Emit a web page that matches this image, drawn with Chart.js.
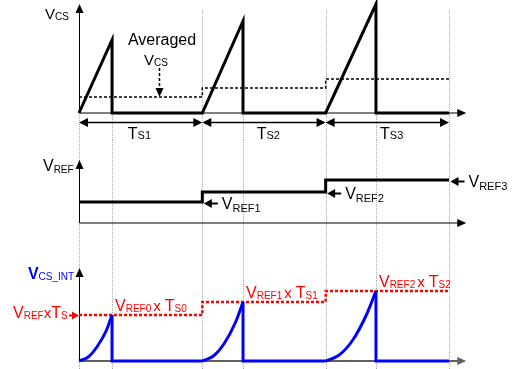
<!DOCTYPE html>
<html>
<head>
<meta charset="utf-8">
<script src="https://cdn.jsdelivr.net/npm/chart.js@4.4.1/dist/chart.umd.min.js"></script>
<style>
  body { margin: 0; background: #fff; }
  canvas { position: absolute; left: 0; }
</style>
</head>
<body>
<canvas id="vcs" width="512" height="140" style="top:0px"></canvas>
<canvas id="vref" width="512" height="100" style="top:140px"></canvas>
<canvas id="vint" width="512" height="129" style="top:240px"></canvas>
<script>
// time is counted in switching periods
const periodStart = [0, 1, 2];
const periodEnd = [1, 2, 3];
const onTime = [0.268, 0.330, 0.408];
const periodLabels = ['S1', 'S2', 'S3'];

// top: sensed current and its average
const vcsPeak = [7.3, 9.2, 10.9];
const vcsAvg = [1.6, 2.5, 3.4];

// middle: reference level
const vref = [2.1, 3.1, 4.3];
const vrefLabels = ['REF1', 'REF2', 'REF3'];

// bottom: integrated current
const vintLevel = [4.6, 5.9, 7.0];
const vintLabels = [['REF0', 'S0'], ['REF1', 'S1'], ['REF2', 'S2']];
const vintCurveT = [
    [0, 0.075, 0.145, 0.22, 0.268],
    [1, 1.09, 1.18, 1.27, 1.33],
    [2, 2.11, 2.22, 2.33, 2.408]
];
const vintCurveV = [
    [0, 0.4, 1.4, 3.0, 4.6],
    [0, 0.5, 1.8, 3.9, 5.9],
    [0, 0.6, 2.1, 4.6, 7.0]
];

const FONT = 'Arial, "Liberation Sans", sans-serif';
const X_MIN = -0.6405, X_MAX = 3.511, AXIS_END = 3.14;

function runs(ctx, x, y, parts, color) {
    ctx.fillStyle = color;
    ctx.textAlign = 'left';
    ctx.textBaseline = 'alphabetic';
    for (const p of parts) {
        ctx.font = (p.b ? 'bold ' : '') + p.s + 'px ' + FONT;
        ctx.fillText(p.t, x, y + (p.dy || 0));
        x += ctx.measureText(p.t).width + (p.gap || 0);
    }
}

function runsWidth(ctx, parts) {
    let w = 0;
    for (const p of parts) {
        ctx.font = (p.b ? 'bold ' : '') + p.s + 'px ' + FONT;
        w += ctx.measureText(p.t).width + (p.gap || 0);
    }
    return w;
}

function head(ctx, x, y, ang, len, half) {
    ctx.save();
    ctx.translate(x, y);
    ctx.rotate(ang);
    ctx.beginPath();
    ctx.moveTo(0, 0);
    ctx.lineTo(-len, -half);
    ctx.lineTo(-len, half);
    ctx.closePath();
    ctx.fill();
    ctx.restore();
}

// dotted gray period markers
function guides(chart, fullTop, shortTop) {
    const ctx = chart.ctx, xs = chart.scales.x, ys = chart.scales.y;
    const bottom = chart.chartArea.bottom;
    ctx.save();
    ctx.strokeStyle = '#a8a8a8';
    ctx.lineWidth = 1;
    ctx.setLineDash([1, 1]);
    const full = periodStart.concat([periodEnd[periodEnd.length - 1]]);
    full.forEach(t => {
        const px = Math.round(xs.getPixelForValue(t)) + 0.5;
        ctx.beginPath();
        ctx.moveTo(px, ys.getPixelForValue(fullTop));
        ctx.lineTo(px, bottom);
        ctx.stroke();
    });
    periodStart.forEach((t, i) => {
        const px = Math.round(xs.getPixelForValue(t + onTime[i])) + 0.5;
        ctx.beginPath();
        ctx.moveTo(px, ys.getPixelForValue(shortTop));
        ctx.lineTo(px, bottom);
        ctx.stroke();
    });
    ctx.restore();
}

function axes(chart, yTop, color, hWidth) {
    const ctx = chart.ctx, xs = chart.scales.x, ys = chart.scales.y;
    const x0 = Math.round(xs.getPixelForValue(0)) + 0.5;
    const y0 = ys.getPixelForValue(0);
    const yt = ys.getPixelForValue(yTop);
    const xr = xs.getPixelForValue(AXIS_END);
    ctx.save();
    ctx.strokeStyle = '#000';
    ctx.fillStyle = '#000';
    ctx.lineWidth = 1;
    ctx.beginPath();
    ctx.moveTo(x0, y0);
    ctx.lineTo(x0, yt + 6);
    ctx.stroke();
    head(ctx, x0, yt, -Math.PI / 2, 9, 4);
    ctx.strokeStyle = color;
    ctx.fillStyle = color;
    ctx.lineWidth = hWidth;
    ctx.beginPath();
    ctx.moveTo(x0, y0);
    ctx.lineTo(xr - 6, y0);
    ctx.stroke();
    head(ctx, xr, y0, 0, 9, 4);
    ctx.restore();
}

function baseOptions(yMin, yMax) {
    return {
        responsive: false,
        animation: false,
        layout: { padding: 0 },
        plugins: { legend: { display: false }, tooltip: { enabled: false } },
        elements: { point: { radius: 0 }, line: { borderJoinStyle: 'miter', borderCapStyle: 'butt', tension: 0 } },
        scales: {
            x: { type: 'linear', display: false, min: X_MIN, max: X_MAX },
            y: { type: 'linear', display: false, min: yMin, max: yMax }
        }
    };
}

// ---------- top panel ----------
const vcsWave = [];
const vcsAvgLine = [];
periodStart.forEach((t, i) => {
    vcsWave.push({ x: t, y: 0 }, { x: t + onTime[i], y: vcsPeak[i] }, { x: t + onTime[i], y: 0 });
    vcsAvgLine.push({ x: t, y: vcsAvg[i] }, { x: periodEnd[i], y: vcsAvg[i] });
});
vcsWave.push({ x: periodEnd[periodEnd.length - 1], y: 0 });

new Chart(document.getElementById('vcs'), {
    type: 'line',
    data: {
        datasets: [
            { data: vcsWave, borderColor: '#000', borderWidth: 3 },
            { data: vcsAvgLine, borderColor: '#000', borderWidth: 1.5, borderDash: [3, 2] }
        ]
    },
    options: baseOptions(-2.7, 11.3),
    plugins: [{
        id: 'vcsDeco',
        beforeDatasetsDraw(chart) {
            guides(chart, 10.3, 0);
            axes(chart, 10.9, '#000', 1);
        },
        afterDatasetsDraw(chart) {
            const ctx = chart.ctx, xs = chart.scales.x, ys = chart.scales.y;
            const X = t => xs.getPixelForValue(t), Y = v => ys.getPixelForValue(v);
            ctx.save();
            runs(ctx, X(-0.276), Y(9.4), [{ t: 'V', s: 15 }, { t: 'CS', s: 10, dy: 1 }], '#000');
            runs(ctx, X(0.397), Y(6.8), [{ t: 'Averaged', s: 16 }], '#000');
            runs(ctx, X(0.527), Y(4.85), [{ t: 'V', s: 15 }, { t: 'CS', s: 10, dy: 1 }], '#000');
            // dashed pointer to the average
            const ax = Math.round(X(0.649)) + 0.5;
            ctx.strokeStyle = '#000';
            ctx.fillStyle = '#000';
            ctx.lineWidth = 1.5;
            ctx.setLineDash([3, 2]);
            ctx.beginPath();
            ctx.moveTo(ax, Y(4.5));
            ctx.lineTo(ax, Y(vcsAvg[0]) - 6);
            ctx.stroke();
            ctx.setLineDash([]);
            head(ctx, ax, Y(vcsAvg[0]), Math.PI / 2, 9, 4);
            // period dimension arrows
            const dy = Math.round(Y(-0.9)) + 0.5;
            periodStart.forEach((t, i) => {
                const a = X(t), b = X(periodEnd[i]);
                ctx.lineWidth = 1.5;
                ctx.beginPath();
                ctx.moveTo(a + 6, dy);
                ctx.lineTo(b - 6, dy);
                ctx.stroke();
                head(ctx, a, dy, Math.PI, 9, 4.5);
                head(ctx, b, dy, 0, 9, 4.5);
                const parts = [{ t: 'T', s: 16 }, { t: periodLabels[i], s: 11, dy: 0 }];
                const w = runsWidth(ctx, parts);
                runs(ctx, X(t + (i === 0 ? 0.49 : 0.535)) - w / 2, Y(-2.6), parts, '#000');
            });
            ctx.restore();
        }
    }]
});

// ---------- middle panel ----------
const vrefLine = [];
periodStart.forEach((t, i) => {
    vrefLine.push({ x: t, y: vref[i] }, { x: periodEnd[i], y: vref[i] });
});

new Chart(document.getElementById('vref'), {
    type: 'line',
    data: {
        datasets: [
            { data: vrefLine, borderColor: '#000', borderWidth: 3 }
        ]
    },
    options: baseOptions(-1.7, 8.3),
    plugins: [{
        id: 'vrefDeco',
        beforeDatasetsDraw(chart) {
            guides(chart, 8.3, 8.3);
            axes(chart, 6.3, '#000', 1);
        },
        afterDatasetsDraw(chart) {
            const ctx = chart.ctx, xs = chart.scales.x, ys = chart.scales.y;
            const X = t => xs.getPixelForValue(t), Y = v => ys.getPixelForValue(v);
            ctx.save();
            runs(ctx, X(-0.292), Y(5.2), [{ t: 'V', s: 16 }, { t: 'REF', s: 10, dy: 2 }], '#000');
            ctx.strokeStyle = '#000';
            ctx.fillStyle = '#000';
            periodEnd.forEach((t, i) => {
                const tipX = X(t) + 1.5, tipY = Math.round(Y(vref[i] - 0.1)) + 0.5;
                ctx.lineWidth = 2;
                ctx.beginPath();
                ctx.moveTo(tipX + 6, tipY);
                ctx.lineTo(tipX + 14, tipY);
                ctx.stroke();
                head(ctx, tipX, tipY, Math.PI, 8, 4.5);
                runs(ctx, tipX + 18, tipY + 5.5, [{ t: 'V', s: 16 }, { t: vrefLabels[i], s: 11, dy: 3 }], '#000');
            });
            ctx.restore();
        }
    }]
});

// ---------- bottom panel ----------
const levelLine = [];
const vintFlat = [];
periodStart.forEach((t, i) => {
    levelLine.push({ x: t, y: vintLevel[i] }, { x: periodEnd[i], y: vintLevel[i] });
    vintFlat.push({ x: t + onTime[i], y: vintLevel[i] }, { x: t + onTime[i], y: 0 },
        { x: periodEnd[i], y: 0 }, { x: periodEnd[i], y: null });
});
const curveSets = vintCurveT.map((ts, i) => ({
    data: ts.map((t, j) => ({ x: t, y: vintCurveV[i][j] })),
    borderColor: '#0000ff',
    borderWidth: 3,
    cubicInterpolationMode: 'monotone'
}));

new Chart(document.getElementById('vint'), {
    type: 'line',
    data: {
        datasets: [
            { data: vintFlat, borderColor: '#0000ff', borderWidth: 3, spanGaps: false },
            ...curveSets,
            { data: levelLine, borderColor: '#ff0000', borderWidth: 2.5, borderDash: [3, 2] }
        ]
    },
    options: baseOptions(-0.8, 12.1),
    plugins: [{
        id: 'vintDeco',
        beforeDatasetsDraw(chart) {
            guides(chart, 12.1, 12.1);
            axes(chart, 9.3, '#606060', 2);
        },
        afterDatasetsDraw(chart) {
            const ctx = chart.ctx, xs = chart.scales.x, ys = chart.scales.y;
            const X = t => xs.getPixelForValue(t), Y = v => ys.getPixelForValue(v);
            ctx.save();
            runs(ctx, X(-0.414), Y(8.2), [{ t: 'V', s: 16, b: true }, { t: 'CS_INT', s: 10, dy: 1 }], '#0000ff');
            runs(ctx, X(-0.535), Y(4.3), [
                { t: 'V', s: 16 }, { t: 'REF', s: 10, dy: 1 }, { t: 'x', s: 15 },
                { t: 'T', s: 16 }, { t: 'S', s: 10, dy: 1 }
            ], '#ff0000');
            ctx.fillStyle = '#ff0000';
            ctx.strokeStyle = '#ff0000';
            const py = Math.round(Y(vintLevel[0])) + 0.5, px = X(0);
            ctx.lineWidth = 2;
            ctx.beginPath();
            ctx.moveTo(px - 10, py);
            ctx.lineTo(px - 5, py);
            ctx.stroke();
            head(ctx, px, py, 0, 7, 4);
            periodStart.forEach((t, i) => {
                runs(ctx, X(t + onTime[i]) + 3, Y(vintLevel[i] + 0.45), [
                    { t: 'V', s: 16 }, { t: vintLabels[i][0], s: 10, dy: 1, gap: 2 }, { t: 'x', s: 15, gap: 4 },
                    { t: 'T', s: 16 }, { t: vintLabels[i][1], s: 10, dy: 1 }
                ], '#ff0000');
            });
            ctx.restore();
        }
    }]
});
</script>
</body>
</html>
